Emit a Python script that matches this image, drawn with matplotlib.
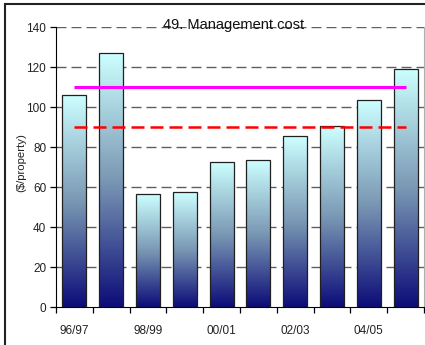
import numpy as np
import matplotlib
matplotlib.use("Agg")
import matplotlib.pyplot as plt
from matplotlib.colors import LinearSegmentedColormap
from matplotlib.patches import Rectangle

plt.rcParams['font.family'] = ['Liberation Sans', 'DejaVu Sans']

categories = ["96/97", "97/98", "98/99", "99/00", "00/01", "01/02", "02/03", "03/04", "04/05", "05/06"]
values = [106, 127, 56.5, 57.5, 72.3, 73.3, 85.5, 90.5, 103.5, 119]
magenta_level = 110
red_level = 90
yticks = [0, 20, 40, 60, 80, 100, 120, 140]

fig = plt.figure(figsize=(4.25, 3.45), dpi=100)
ax = fig.add_axes([56/425, 38/345, 368/425, 280/345])

cmap = LinearSegmentedColormap.from_list(
    "bar", [(0.0, (12/255, 12/255, 120/255)),
            (0.5, (122/255, 152/255, 180/255)),
            (1.0, (204/255, 1.0, 1.0))])
grad = np.linspace(0, 1, 256).reshape(-1, 1)
x = np.arange(len(values))
w = 0.65
for xi, v in zip(x, values):
    ax.imshow(grad, cmap=cmap, extent=[xi - w/2, xi + w/2, 0, v],
              aspect='auto', origin='lower', zorder=2, interpolation='bilinear')
ax.bar(x, values, width=w, facecolor='none', edgecolor='#202020', linewidth=0.9, zorder=3)

ax.plot([x[0], x[-1]], [magenta_level]*2, color='#ff00ff', lw=2.2, zorder=4, solid_capstyle='butt')
ax.plot([x[0], x[-1]], [red_level]*2, color='#ff0000', lw=1.8, zorder=4,
        dashes=[5.2, 2.4], dash_capstyle='butt')

ax.set_xlim(-0.5, len(values) - 0.5)
ax.set_ylim(0, 140)
ax.set_yticks(yticks)
for yv in yticks[1:]:
    ax.axhline(yv, color='#606060', lw=1.0, dashes=[7.2, 3.6], zorder=1)

ax.set_xticks(np.arange(-0.5, len(values), 1.0))
ax.set_xticklabels([])
ax.set_xticks(x[::2], minor=True)
ax.set_xticklabels(categories[::2], minor=True)
ax.tick_params(axis='x', which='major', length=4, width=0.9, direction='out', color='black')
ax.tick_params(axis='x', which='minor', length=0, pad=13, labelsize=8.5, labelcolor='#222222')
ax.tick_params(axis='y', length=4, width=0.9, direction='out', labelsize=8.5, labelcolor='#222222', pad=3)

ax.spines['top'].set_visible(False)
ax.spines['right'].set_color('#b0b0b0')
ax.spines['left'].set_color('black')
ax.spines['bottom'].set_color('black')
ax.set_facecolor('white')

fig.text(21/425, 1 - 163/345, "($/property)", rotation=90, ha='center', va='center',
         fontsize=8.2, color='#222222')
fig.text(234/425, 1 - 25/345, "49. Management cost", ha='center', va='center',
         fontsize=10.5, color='#111111', zorder=0)

fig.patches.append(Rectangle((5/425, -0.2), 1.3, 1.2 - 4/345, transform=fig.transFigure,
                             fill=False, edgecolor='#222222', linewidth=1.5))

fig.savefig("out.png", dpi=100)
